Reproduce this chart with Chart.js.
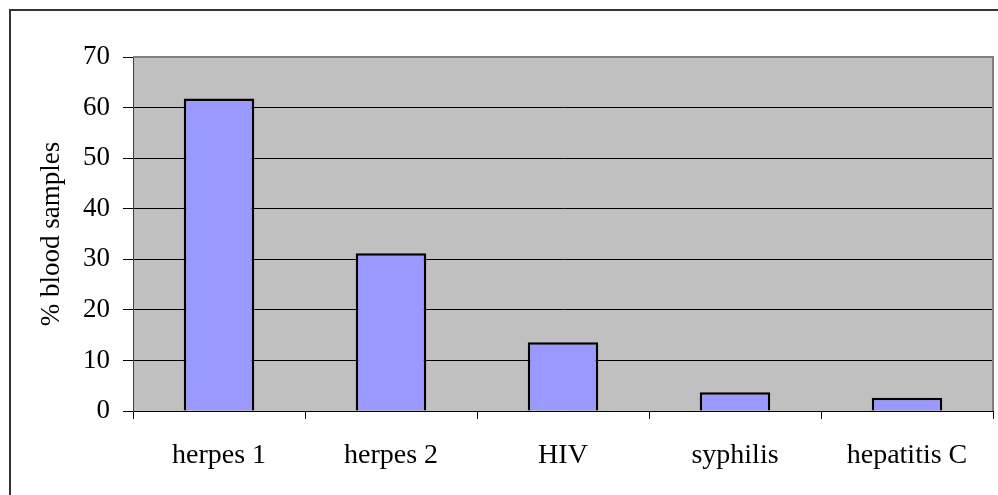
<!DOCTYPE html>
<html>
<head>
<meta charset="utf-8">
<script src="https://cdn.jsdelivr.net/npm/chart.js@4/dist/chart.umd.min.js"></script>
<style>
  html, body { margin: 0; padding: 0; background: #fff; overflow: hidden; }
  #wrap { position: relative; width: 998px; height: 495px; }
  #frame { position: absolute; left: 9px; top: 9px; width: 1000px; height: 500px; border: 2px solid #333; box-sizing: border-box; }
  canvas { position: absolute; left: 0; top: 0; }
</style>
</head>
<body>
<div id="wrap">
  <div id="frame"></div>
  <canvas id="myChart" width="998" height="495"></canvas>
</div>
<script>
const categories = ['herpes 1', 'herpes 2', 'HIV', 'syphilis', 'hepatitis C']
const percentSamples = [61.8, 31.2, 13.6, 3.7, 2.6]
const yAxisTitle = '% blood samples'

const serif = '"Liberation Serif", "Times New Roman", serif'

// grey plot area + grey top/right frame, like the old Excel look
const plotArea = {
  id: 'plotArea',
  beforeDraw(chart) {
    const { ctx, chartArea: a } = chart
    ctx.save()
    ctx.fillStyle = '#c0c0c0'
    ctx.fillRect(a.left, a.top, a.right - a.left, a.bottom - a.top)
    ctx.restore()
  },
  afterDraw(chart) {
    const { ctx, chartArea: a } = chart
    ctx.save()
    ctx.strokeStyle = '#808080'
    ctx.lineWidth = 2
    ctx.beginPath()
    ctx.moveTo(a.left, a.top)
    ctx.lineTo(a.right, a.top)
    ctx.lineTo(a.right, a.bottom)
    ctx.stroke()
    ctx.restore()
  },
}

const ctx = document.getElementById('myChart').getContext('2d')
new Chart(ctx, {
  type: 'bar',
  data: {
    labels: categories,
    datasets: [
      {
        data: percentSamples,
        backgroundColor: '#9999ff',
        borderColor: '#000',
        borderWidth: 2.5,
        barPercentage: 0.41,
        categoryPercentage: 1,
      },
    ],
  },
  options: {
    responsive: false,
    animation: false,
    layout: { padding: { left: 20, top: 57, right: 5, bottom: 0 } },
    plugins: { legend: { display: false }, tooltip: { enabled: false } },
    scales: {
      x: {
        afterFit(s) { s.height = 84 },
        grid: { offset: true, drawOnChartArea: false, drawTicks: true, tickLength: 8, color: '#000' },
        border: { display: true, color: '#000', width: 1 },
        ticks: { color: '#000', padding: 20, font: { family: serif, size: 28 } },
      },
      y: {
        min: 0,
        max: 70,
        afterFit(s) { s.width = 113 },
        ticks: { stepSize: 10, color: '#000', padding: 13, font: { family: serif, size: 27 } },
        grid: { color: '#000', lineWidth: 1, tickLength: 10 },
        border: { display: true, color: '#404040', width: 1 },
        title: {
          display: true,
          text: yAxisTitle,
          color: '#000',
          padding: { top: 16, bottom: 0 },
          font: { family: serif, size: 27 },
        },
      },
    },
  },
  plugins: [plotArea],
})
</script>
</body>
</html>
